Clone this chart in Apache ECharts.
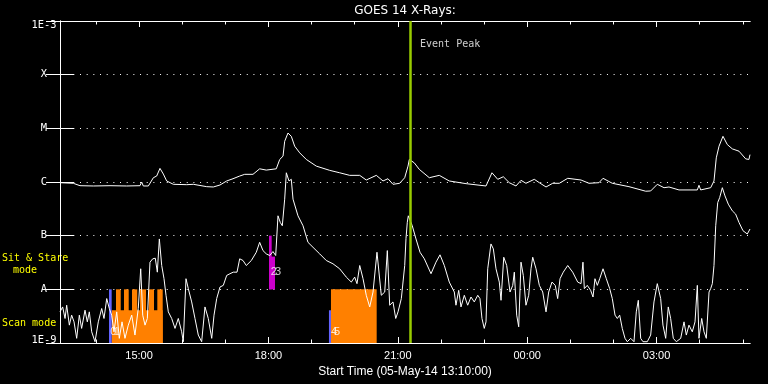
<!DOCTYPE html>
<html><head><meta charset="utf-8">
<script src="https://cdn.jsdelivr.net/npm/echarts@6/dist/echarts.min.js"></script>
<style>html,body{margin:0;padding:0;background:#000;}#c{width:768px;height:384px;}</style>
</head><body><div id="c"></div>
<script>
// Times are minutes after the start time (05-May-14 13:10:00); flux values are log10(W/m^2).
const titleText = 'GOES 14 X-Rays:';
const startLabel = 'Start Time (05-May-14 13:10:00)';
const xMinorTickMinutes = [50,110,170,230,290,350,410,470,530,590,650,710,770,830,890,950];
const xLabelMinutes = [110,290,470,650,830];
const xLabels = ['15:00','18:00','21:00','00:00','03:00'];
const yTickLabels = ['1E-9','A','B','C','M','X','1E-3'];
const eventPeakMinute = 487;
const eventLabel = 'Event Peak';
const eventLabelLog = -3.435;
const modeLabels = ['Sit & Stare', 'mode', 'Scan mode'];

const longChannel = [[0,-6.013],[18.5,-6.024],[27.8,-6.069],[46.4,-6.074],[69.6,-6.069],[92.8,-6.074],[111.3,-6.069],[113.6,-6.0],[115.9,-6.074],[122.9,-6.074],[129.9,-5.92],[134.5,-5.889],[139.1,-5.746],[143.8,-5.852],[148.4,-5.981],[157.7,-6.043],[176.3,-6.05],[185.5,-6.043],[204.1,-6.087],[213.3,-6.093],[222.6,-6.056],[231.9,-5.981],[240.7,-5.939],[250.0,-5.889],[257.0,-5.857],[268.5,-5.857],[277.8,-5.754],[287.0,-5.778],[300.9,-5.754],[305.7,-5.58],[310.3,-5.519],[312.6,-5.241],[317.2,-5.087],[321.8,-5.148],[326.5,-5.333],[333.5,-5.457],[342.7,-5.58],[356.6,-5.704],[375.2,-5.783],[389.1,-5.828],[403.1,-5.876],[417.0,-5.876],[426.1,-5.963],[440.1,-5.876],[449.4,-5.981],[456.3,-5.939],[463.3,-6.043],[472.6,-6.024],[479.6,-5.92],[484.2,-5.704],[486.0,-5.58],[492.9,-5.643],[499.9,-5.765],[513.8,-5.92],[527.7,-5.876],[541.6,-5.981],[564.9,-6.031],[592.7,-6.074],[601.0,-5.828],[609.0,-5.95],[616.8,-5.902],[625.1,-6.013],[634.4,-6.074],[641.4,-5.969],[648.3,-6.024],[659.9,-5.95],[666.9,-6.013],[676.2,-6.093],[685.5,-6.024],[694.7,-6.024],[706.4,-5.931],[724.9,-5.963],[736.0,-6.024],[749.9,-6.013],[755.5,-5.931],[768.4,-6.024],[791.6,-6.087],[814.9,-6.172],[821.8,-6.167],[831.0,-6.043],[840.4,-6.106],[847.3,-6.093],[861.2,-6.148],[886.7,-6.148],[889.0,-6.061],[891.4,-6.148],[905.3,-6.106],[909.9,-5.981],[913.1,-5.55],[916.9,-5.333],[922.4,-5.148],[928.4,-5.302],[935.4,-5.383],[944.7,-5.426],[954.0,-5.569],[958.5,-5.58],[960,-5.49]];

const shortChannel = [[0,-8.42],[3.7,-8.328],[7.0,-8.543],[9.3,-8.296],[13.0,-8.667],[16.2,-8.481],[19.5,-8.606],[23.2,-8.913],[26.9,-8.481],[30.1,-8.728],[34.8,-8.389],[38.0,-8.606],[40.8,-8.42],[44.1,-8.791],[48.7,-8.976],[53.3,-8.606],[58.0,-8.357],[61.2,-8.543],[65.0,-8.172],[68.6,-8.357],[71.9,-8.481],[75.1,-8.791],[78.9,-8.42],[82.5,-8.913],[86.3,-8.606],[90.4,-8.913],[95.0,-8.667],[99.8,-8.481],[104.3,-8.852],[108.9,-8.357],[112.3,-7.617],[115.1,-8.481],[118.3,-8.667],[121.5,-8.543],[125.2,-7.494],[129.0,-7.431],[132.6,-7.42],[135.4,-7.68],[138.2,-7.061],[141.5,-7.556],[144.7,-7.802],[147.5,-8.111],[150.7,-8.42],[155.4,-8.543],[160.0,-8.728],[164.6,-8.543],[169.3,-8.791],[171.5,-8.976],[175.3,-7.802],[178.5,-7.987],[183.2,-8.235],[187.8,-8.543],[192.4,-8.852],[197.1,-8.976],[201.7,-8.328],[206.3,-8.543],[211.1,-8.913],[214.3,-8.481],[218.0,-8.172],[222.6,-7.957],[227.2,-7.926],[231.9,-7.741],[236.5,-7.709],[241.1,-7.68],[246.3,-7.68],[250.0,-7.431],[254.6,-7.463],[259.2,-7.556],[266.2,-7.463],[273.1,-7.309],[277.8,-7.124],[282.4,-7.278],[287.0,-7.339],[291.8,-7.37],[296.3,-7.296],[300.1,-7.37],[303.3,-6.63],[306.5,-6.754],[309.3,-6.815],[312.6,-6.32],[314.9,-5.828],[318.6,-5.981],[321.8,-5.95],[324.2,-6.32],[331.1,-6.63],[338.1,-6.815],[345.0,-7.124],[352.0,-7.217],[361.3,-7.339],[370.5,-7.463],[379.8,-7.524],[389.1,-7.617],[398.3,-7.772],[405.3,-7.865],[410.0,-7.772],[413.2,-7.894],[417.0,-7.556],[421.6,-7.802],[426.1,-8.111],[430.9,-8.328],[435.5,-8.05],[441.0,-7.309],[447.0,-8.111],[451.8,-8.05],[455.4,-7.278],[458.7,-8.296],[463.3,-8.235],[467.1,-8.543],[470.3,-8.42],[474.9,-8.172],[479.6,-7.556],[481.4,-7.05],[483.2,-6.75],[484.6,-6.63],[490.1,-6.815],[495.3,-7.061],[500.9,-7.309],[506.9,-7.431],[516.2,-7.709],[523.1,-7.494],[528.7,-7.357],[534.7,-7.556],[541.6,-7.865],[548.6,-8.05],[550.9,-8.296],[554.7,-8.019],[557.9,-8.328],[562.5,-8.111],[567.2,-8.296],[571.8,-8.143],[576.4,-8.235],[581.2,-8.111],[584.3,-8.172],[587.1,-8.543],[590.3,-8.728],[592.7,-8.606],[595.1,-7.617],[599.6,-7.154],[602.9,-7.246],[606.6,-7.617],[611.2,-7.865],[613.6,-8.204],[617.4,-7.402],[621.5,-7.556],[626.1,-8.05],[629.9,-7.926],[632.1,-7.68],[635.4,-8.481],[638.2,-8.698],[641.4,-7.494],[644.6,-7.741],[648.3,-8.296],[652.1,-8.111],[655.3,-7.617],[657.7,-7.402],[662.3,-7.617],[666.9,-7.926],[671.6,-8.05],[676.2,-8.42],[679.9,-8.05],[684.5,-7.865],[689.1,-7.926],[692.4,-8.172],[695.7,-7.802],[700.2,-7.68],[706.4,-7.556],[713.3,-7.68],[720.3,-7.865],[724.9,-7.894],[727.6,-7.494],[729.5,-7.987],[733.6,-7.926],[738.3,-8.019],[741.6,-8.143],[744.3,-7.802],[747.6,-7.926],[750.9,-7.802],[755.5,-7.617],[760.1,-7.802],[764.8,-7.987],[768.4,-8.172],[772.2,-8.481],[775.4,-8.543],[778.7,-8.481],[782.3,-8.728],[786.1,-8.913],[789.3,-8.976],[794.0,-8.913],[798.6,-8.976],[801.8,-8.42],[804.6,-8.204],[807.9,-8.913],[811.1,-8.976],[817.1,-8.976],[821.8,-8.852],[826.4,-8.235],[831.0,-7.894],[835.7,-8.172],[838.9,-8.667],[842.7,-8.913],[846.3,-8.328],[849.6,-8.543],[853.3,-8.913],[857.5,-8.976],[863.6,-8.913],[868.2,-8.606],[871.4,-8.852],[875.1,-8.667],[879.7,-8.791],[883.5,-8.606],[886.7,-7.926],[889.0,-8.913],[892.8,-8.543],[896.0,-8.791],[899.2,-8.913],[903.0,-8.05],[905.3,-7.987],[907.6,-7.894],[909.9,-7.556],[912.3,-6.815],[915.1,-6.383],[917.8,-6.291],[921.5,-6.106],[925.2,-6.259],[929.8,-6.413],[935.4,-6.537],[940.0,-6.598],[944.7,-6.754],[950.2,-6.907],[956.2,-6.969],[960,-6.876]];

// observation blocks: [startMinute, endMinute, lowLog, highLog]
const scanRects = [[71.9,142.9,-9,-8.39],[77.9,84.5,-9,-8],[89.0,95.6,-9,-8],[100.2,107.5,-9,-8],[111.3,119.7,-9,-8],[123.4,130.8,-9,-8],[135.4,142.9,-9,-8],[377.0,440.6,-9,-8]];
const blueRects = [[68.2,71.9,-9,-8],[374.2,377.0,-9,-8.39]];
const sitStareRects = [[290.8,294.5,-8,-7],[290.8,299.1,-8,-7.39]];
// observation numbers: [minute, log level, text]
const obsLabels = [[74.2,-8.8,'0'],[78.9,-8.8,'1'],[297.3,-7.68,'2'],[303.3,-7.68,'3'],[381.2,-8.79,'4'],[385.4,-8.79,'5']];

const FONT = 'Liberation Sans';
const MONO = 'DejaVu Sans Mono';
const WHITE = '#ffffff';
const toFlux = (arr) => arr.map(p => [p[0], Math.pow(10, p[1])]);

function rectSeries(rects, color) {
  return {
    type: 'custom', silent: true, z: 1, clip: true,
    data: rects.map(r => [r[0], r[1], Math.pow(10, r[2]), Math.pow(10, r[3])]),
    encode: { x: [0, 1], y: [2, 3] },
    renderItem: function (params, api) {
      const p1 = api.coord([api.value(0), api.value(3)]);
      const p2 = api.coord([api.value(1), api.value(2)]);
      return { type: 'rect', shape: { x: p1[0], y: p1[1], width: p2[0] - p1[0], height: p2[1] - p1[1] }, style: { fill: color } };
    }
  };
}

function xAxisDef(position, major, extra) {
  return Object.assign({
    type: 'value', position: position, min: 0, max: 960,
    axisLine: { show: true, lineStyle: { color: WHITE, width: 1 } },
    axisTick: { show: true, inside: true, length: major ? 6 : 3.5, customValues: major ? xLabelMinutes : xMinorTickMinutes, lineStyle: { color: WHITE, width: 1 } },
    axisLabel: { show: false },
    splitLine: { show: false }
  }, extra || {});
}

const chart = echarts.init(document.getElementById('c'), null, { renderer: 'canvas' });
chart.setOption({
  backgroundColor: '#000000',
  animation: false,
  textStyle: { fontFamily: FONT },
  grid: { left: 60, right: 18, top: 19, bottom: 41 },
  xAxis: [
    xAxisDef('bottom', true, {
      axisLabel: {
        show: true, customValues: xLabelMinutes, color: WHITE, fontSize: 11, fontFamily: FONT, margin: 7,
        formatter: v => xLabels[xLabelMinutes.indexOf(Math.round(v))]
      },
      name: startLabel, nameLocation: 'middle', nameGap: 18,
      nameTextStyle: { color: WHITE, fontSize: 12, fontFamily: FONT }
    }),
    xAxisDef('bottom', false),
    xAxisDef('top', true, {
      name: titleText, nameLocation: 'middle', nameGap: 4,
      nameTextStyle: { color: WHITE, fontSize: 12, fontFamily: 'DejaVu Sans' }
    }),
    xAxisDef('top', false)
  ],
  yAxis: [
    {
      type: 'log', logBase: 10, min: 1e-9, max: 1e-3, splitNumber: 6, position: 'left',
      axisLine: { show: true, lineStyle: { color: WHITE, width: 1 } },
      axisTick: { show: true, inside: true, length: 14, lineStyle: { color: WHITE, width: 1 } },
      axisLabel: {
        color: WHITE, fontSize: 10.4, fontFamily: MONO, margin: 16, align: 'center',
        formatter: function (v) {
          const i = Math.round(Math.log10(v)) + 9;
          if (i === 6) return '{top|' + yTickLabels[i] + '}';
          if (i === 0) return '{bot|' + yTickLabels[i] + '}';
          return yTickLabels[i];
        },
        rich: {
          top: { color: WHITE, fontSize: 10.4, fontFamily: MONO, padding: [8, 0, 0, 0] },
          bot: { color: WHITE, fontSize: 10.4, fontFamily: MONO, padding: [0, 0, 6, 0] }
        }
      },
      splitLine: { show: true, lineStyle: { color: WHITE, width: 1, type: [1, 5.67] } }
    },
    {
      type: 'log', logBase: 10, min: 1e-9, max: 1e-3, splitNumber: 6, position: 'right',
      axisLine: { show: true, lineStyle: { color: WHITE, width: 1 } },
      axisTick: { show: true, inside: true, length: 14, lineStyle: { color: WHITE, width: 1 } },
      axisLabel: { show: false },
      splitLine: { show: false }
    }
  ],
  graphic: [
    { type: 'text', left: 2, top: 253, style: { text: modeLabels[0], fill: '#ffff00', font: '10px "DejaVu Sans Mono"' } },
    { type: 'text', left: 13, top: 265.5, style: { text: modeLabels[1], fill: '#ffff00', font: '10px "DejaVu Sans Mono"' } },
    { type: 'text', left: 2, top: 318, style: { text: modeLabels[2], fill: '#ffff00', font: '10px "DejaVu Sans Mono"' } }
  ],
  series: [
    rectSeries(scanRects, '#ff8000'),
    rectSeries(blueRects, '#6464ff'),
    rectSeries(sitStareRects, '#cc00cc'),
    {
      type: 'scatter', symbolSize: 0, silent: true, z: 2,
      data: obsLabels.map(o => [o[0], Math.pow(10, o[1]), o[2]]),
      encode: { x: 0, y: 1 },
      label: { show: true, position: 'inside', color: WHITE, fontSize: 11, fontFamily: FONT, formatter: p => p.data[2] }
    },
    {
      name: 'long', type: 'line', data: toFlux(longChannel), showSymbol: false, symbol: 'none', z: 3,
      lineStyle: { color: WHITE, width: 1 }, clip: true, silent: true
    },
    {
      name: 'short', type: 'line', data: toFlux(shortChannel), showSymbol: false, symbol: 'none', z: 3,
      lineStyle: { color: WHITE, width: 1 }, clip: true, silent: true
    },
    {
      type: 'scatter', symbolSize: 0, silent: true, z: 5,
      data: [[eventPeakMinute, Math.pow(10, eventLabelLog)]],
      label: { show: true, position: 'right', distance: 10, color: WHITE, fontSize: 10, fontFamily: MONO, formatter: eventLabel },
      markLine: {
        silent: true, symbol: ['none', 'none'], label: { show: false },
        lineStyle: { color: '#99cc00', width: 2.5, type: 'solid' },
        data: [{ xAxis: eventPeakMinute }]
      }
    }
  ]
});
</script></body></html>
